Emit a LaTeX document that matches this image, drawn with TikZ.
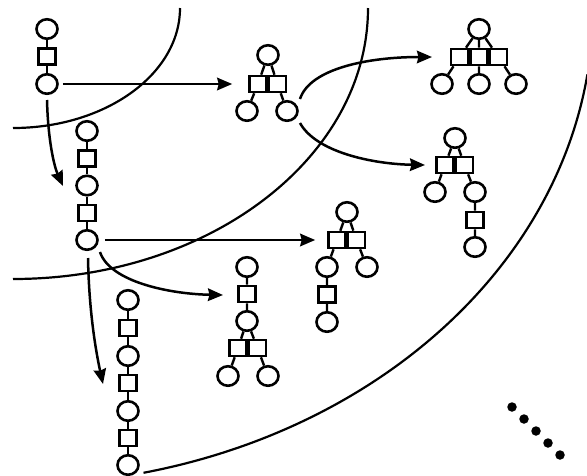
\documentclass[tikz,border=0pt]{standalone}
\usetikzlibrary{arrows.meta,shapes.geometric}
\begin{document}
\begin{tikzpicture}[x=1pt,y=-1pt,
  atom/.style={ellipse,draw,line width=2.6pt,minimum width=21pt,minimum height=19.5pt,inner sep=0pt},
  link/.style={rectangle,draw,line width=2.6pt,minimum width=17pt,minimum height=16pt,inner sep=0pt},
  bond/.style={line width=2.4pt},
  arr/.style={line width=2.5pt,-{Stealth[length=15pt,width=12.5pt,inset=1.5pt]}},
  shell/.style={line width=2.2pt},
  dotnode/.style={circle,fill,inner sep=0pt,minimum size=9.5pt}
]
\useasboundingbox (0,0) rectangle (587,475);

% shells
\draw[shell] (180,8) arc[start angle=0,end angle=90,x radius=167,y radius=120];
\draw[shell] (368,8) arc[start angle=0,end angle=90,x radius=355,y radius=271];
\draw[shell] (587.4,74.4) arc[start angle=8,end angle=77,x radius=580,y radius=477];

% molecule 1
\node[atom] (m1a) at (47,29) {};
\node[link] (m1b) at (47,56.5) {};
\node[atom] (m1c) at (47,84) {};
\draw[bond] (m1a) -- (m1b) (m1b) -- (m1c);

% molecule 2
\node[atom] (m2t) at (268,55) {};
\node[link] (m2l) at (258,84) {};
\node[link] (m2r) at (277.5,84) {};
\node[atom] (m2a) at (247,111) {};
\node[atom] (m2b) at (287,111) {};
\draw[bond] (m2t) -- (m2l) (m2t) -- (m2r) (m2l) -- (m2a) (m2r) -- (m2b);

% molecule 3
\node[atom] (m3a) at (87,131) {};
\node[link] (m3b) at (87,158.5) {};
\node[atom] (m3c) at (87,185.5) {};
\node[link] (m3d) at (87,213) {};
\node[atom] (m3e) at (87,240) {};
\draw[bond] (m3a) -- (m3b) (m3b) -- (m3c) (m3c) -- (m3d) (m3d) -- (m3e);

% molecule 4
\node[atom] (m4a) at (128,300) {};
\node[link] (m4b) at (128,328) {};
\node[atom] (m4c) at (128,356) {};
\node[link] (m4d) at (128,383) {};
\node[atom] (m4e) at (128,411) {};
\node[link] (m4f) at (128,438) {};
\node[atom] (m4g) at (128,465) {};
\draw[bond] (m4a) -- (m4b) (m4b) -- (m4c) (m4c) -- (m4d) (m4d) -- (m4e) (m4e) -- (m4f) (m4f) -- (m4g);

% molecule 5
\node[atom] (m5a) at (247,267) {};
\node[link] (m5b) at (247,294) {};
\node[atom] (m5c) at (247,321) {};
\node[link] (m5l) at (238,348) {};
\node[link] (m5r) at (257.5,348) {};
\node[atom] (m5x) at (228,376) {};
\node[atom] (m5y) at (268,376) {};
\draw[bond] (m5a) -- (m5b) (m5b) -- (m5c) (m5c) -- (m5l) (m5c) -- (m5r) (m5l) -- (m5x) (m5r) -- (m5y);

% molecule 6
\node[atom] (m6t) at (347,212) {};
\node[link] (m6l) at (337,240) {};
\node[link] (m6r) at (356.5,240) {};
\node[atom] (m6a) at (327,267) {};
\node[link] (m6b) at (327,294.5) {};
\node[atom] (m6c) at (327,322) {};
\node[atom] (m6d) at (367,267) {};
\draw[bond] (m6t) -- (m6l) (m6t) -- (m6r) (m6l) -- (m6a) (m6a) -- (m6b) (m6b) -- (m6c) (m6r) -- (m6d);

% molecule 7
\node[atom] (m7t) at (479,29) {};
\node[link] (m7l) at (459.5,57) {};
\node[link] (m7m) at (479,57) {};
\node[link] (m7r) at (498.5,57) {};
\node[atom] (m7a) at (442,84) {};
\node[atom] (m7b) at (479,84) {};
\node[atom] (m7c) at (516,84) {};
\draw[bond] (m7t) -- (m7l) (m7t) -- (m7m) (m7t) -- (m7r) (m7l) -- (m7a) (m7m) -- (m7b) (m7r) -- (m7c);

% molecule 8
\node[atom] (m8t) at (455,138) {};
\node[link] (m8l) at (445,165) {};
\node[link] (m8r) at (464.5,165) {};
\node[atom] (m8a) at (435,192) {};
\node[atom] (m8b) at (475,192) {};
\node[link] (m8c) at (475,220) {};
\node[atom] (m8d) at (475,247) {};
\draw[bond] (m8t) -- (m8l) (m8t) -- (m8r) (m8l) -- (m8a) (m8r) -- (m8b) (m8b) -- (m8c) (m8c) -- (m8d);

% arrow end points
\coordinate (a2s) at (47,100);  \coordinate (a2e) at (63,186);
\coordinate (a3s) at (300,99);  \coordinate (a3e) at (432,57);
\coordinate (a4s) at (300,123); \coordinate (a4e) at (425,165);
\coordinate (a6s) at (100,252); \coordinate (a6e) at (223,295);
\coordinate (a7s) at (88,258);  \coordinate (a7e) at (103,384);

% arrows
\draw[arr,shorten <=4pt,shorten >=16pt] (m1c.east) -- (m2l.west);
\draw[arr] (a2s) .. controls (48,140) and (54,166) .. (a2e);
\draw[arr] (a3s) .. controls (310,68) and (370,57) .. (a3e);
\draw[arr] (a4s) .. controls (316,152) and (372,164) .. (a4e);
\draw[arr,shorten <=6pt,shorten >=12pt] (m3e.east) -- (m6l.west);
\draw[arr] (a6s) .. controls (110,282) and (170,294) .. (a6e);
\draw[arr] (a7s) .. controls (89,312) and (96,352) .. (a7e);

% dots
\node[dotnode] (d1) at (512,407) {};
\node[dotnode] (d2) at (524,419) {};
\node[dotnode] (d3) at (536,431) {};
\node[dotnode] (d4) at (548,443) {};
\node[dotnode] (d5) at (560,455) {};
\end{tikzpicture}
\end{document}
